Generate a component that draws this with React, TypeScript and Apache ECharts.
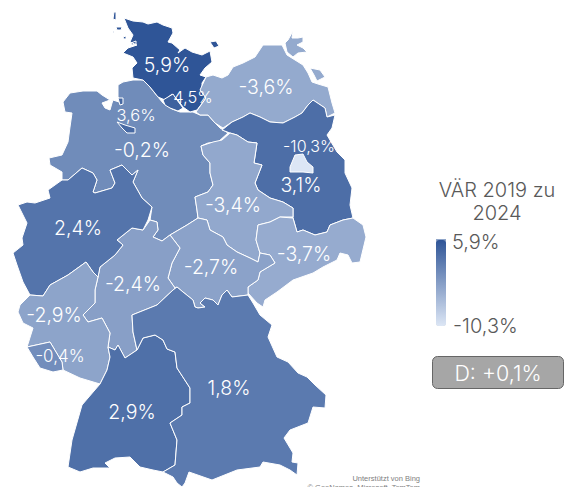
import React, { useEffect, useRef } from "react";
import * as echarts from "echarts";

const stateNames = ["Niedersachsen","Bremen","Schleswig-Holstein","Hamburg","Mecklenburg-Vorpommern","Brandenburg","Berlin","Sachsen-Anhalt","Sachsen","Thüringen","Hessen","Nordrhein-Westfalen","Rheinland-Pfalz","Saarland","Baden-Württemberg","Bayern"];
const stateValues = [-0.2,3.6,5.9,4.5,-3.6,3.1,-10.3,-3.4,-3.7,-2.7,-2.4,2.4,-2.9,-0.4,2.9,1.8];
const scaleMin = -10.3;
const scaleMax = 5.9;
const legendTitle = "VÄR 2019 zu\n2024";
const legendMaxLabel = "5,9%";
const legendMinLabel = "-10,3%";
const nationalLabel = "D: +0,1%";

type P = number[][];
// Traced outlines of the regions, in picture units
const outlines: Record<string, P[]> = {
  "Niedersachsen": [[[118,85],[123,82],[133,80],[143,80],[150,87],[158,97],[163,103],[172,109],[180,112],[193,112],[200,115],[208,115],[215,123],[220,128],[228,133],[218,142],[208,143],[201,146],[203,155],[210,163],[210,173],[213,185],[208,192],[195,197],[197,210],[198,218],[187,225],[170,235],[162,241],[153,237],[158,230],[157,222],[150,220],[152,207],[142,198],[133,182],[138,170],[132,175],[122,165],[110,170],[115,183],[112,188],[95,193],[93,192],[97,180],[93,173],[82,168],[68,180],[62,180],[62,172],[50,165],[49,158],[62,155],[68,142],[70,127],[72,113],[65,112],[63,102],[70,93],[83,91],[97,91],[102,95],[110,100],[102,103],[105,108],[110,110],[112,103],[113,100],[122,103],[118,97]]],
  "Bremen": [[[117,122],[125,125],[135,128],[135,133],[127,133],[122,128]],[[118,98],[123,98],[123,104],[120,105]]],
  "Schleswig-Holstein": [[[124,18],[133,21],[143,22],[148,24],[157,22],[163,25],[172,28],[173,33],[168,42],[172,43],[180,50],[178,53],[185,48],[192,52],[202,55],[210,51],[212,62],[205,68],[200,75],[206,77],[202,83],[202,92],[206,98],[197,110],[190,112],[183,107],[178,100],[172,94],[165,100],[158,97],[150,87],[143,80],[133,78],[132,68],[137,63],[133,57],[123,53],[128,48],[137,45],[130,42],[133,35],[128,28]],[[210,42],[216,41],[219,46],[214,48]],[[114,12],[116,12],[116,20],[113,19]],[[116,27],[122,27],[121,30],[117,30]],[[123,37],[126,36],[126,39],[124,39]],[[131,43],[136,41],[136,44],[132,45]],[[113,31],[114,31],[114,33],[113,33]]],
  "Hamburg": [[[163,100],[168,97],[173,94],[177,100],[183,108],[178,111],[170,108],[165,105]]],
  "Mecklenburg-Vorpommern": [[[200,90],[206,77],[213,75],[222,78],[228,75],[233,67],[243,63],[255,57],[263,45],[273,45],[282,45],[287,55],[295,60],[303,65],[308,73],[312,82],[318,84],[328,87],[332,103],[335,113],[327,117],[325,108],[313,100],[308,105],[302,113],[295,117],[283,123],[270,122],[260,117],[250,113],[243,117],[232,122],[223,128],[215,123],[208,115],[200,115],[196,112],[206,98]],[[285,43],[288,40],[293,31],[292,38],[298,38],[303,37],[303,42],[297,45],[303,48],[307,52],[298,53],[293,57],[287,52]],[[310,68],[320,70],[325,77],[317,81],[314,75]]],
  "Brandenburg": [[[222,130],[232,122],[243,117],[250,113],[260,117],[270,122],[283,123],[295,117],[302,113],[308,105],[313,100],[325,108],[327,117],[335,115],[332,128],[327,135],[337,152],[345,160],[345,173],[352,188],[350,205],[353,218],[343,220],[330,225],[327,232],[315,235],[303,230],[297,232],[293,218],[293,208],[283,202],[270,198],[258,190],[255,183],[262,165],[254,163],[257,143],[248,142],[237,135],[230,133]]],
  "Berlin": [[[295,155],[303,154],[307,162],[313,167],[313,173],[303,172],[290,172],[290,167]]],
  "Sachsen-Anhalt": [[[230,133],[237,135],[248,142],[257,143],[254,163],[262,165],[255,183],[258,190],[270,198],[283,202],[293,208],[293,217],[280,217],[270,222],[258,225],[256,240],[260,253],[258,262],[250,258],[237,252],[227,245],[223,237],[210,230],[207,220],[198,218],[197,210],[195,197],[208,192],[213,185],[210,173],[210,163],[203,155],[201,146],[213,142],[222,140]]],
  "Sachsen": [[[293,218],[297,232],[303,230],[315,235],[327,232],[330,225],[343,220],[353,218],[363,225],[366,237],[360,262],[352,263],[348,255],[340,253],[337,260],[323,267],[313,273],[293,280],[277,292],[265,300],[263,307],[257,303],[248,293],[248,287],[258,280],[260,272],[275,263],[270,255],[260,253],[256,240],[258,225],[270,222],[280,217]]],
  "Thüringen": [[[198,218],[207,220],[210,230],[223,237],[227,245],[237,252],[250,258],[258,262],[260,253],[270,255],[275,263],[260,272],[258,280],[248,287],[248,295],[232,297],[227,290],[222,295],[218,305],[213,300],[205,298],[200,303],[205,307],[198,308],[195,307],[193,300],[183,292],[177,287],[175,288],[168,278],[172,263],[180,248],[170,235],[187,225]]],
  "Hessen": [[[150,220],[157,222],[158,230],[153,237],[162,241],[170,235],[180,248],[172,263],[168,278],[175,288],[173,290],[157,305],[132,315],[133,332],[137,350],[125,358],[118,345],[115,350],[108,347],[110,333],[102,318],[88,322],[83,315],[95,303],[95,290],[98,277],[100,267],[115,255],[123,245],[117,240],[132,228],[143,230]]],
  "Nordrhein-Westfalen": [[[62,180],[68,180],[82,168],[93,173],[97,180],[93,192],[95,193],[112,188],[115,183],[110,170],[122,165],[132,175],[138,170],[133,182],[142,198],[152,207],[148,220],[143,230],[132,228],[117,240],[123,245],[115,255],[100,267],[98,277],[93,272],[86,262],[68,275],[50,285],[43,296],[30,295],[23,282],[17,265],[13,253],[23,245],[22,238],[27,223],[22,213],[18,205],[27,202],[35,203],[50,198],[48,190]]],
  "Rheinland-Pfalz": [[[86,262],[93,272],[98,277],[95,290],[95,303],[83,315],[88,322],[102,318],[110,333],[108,347],[110,357],[107,370],[100,384],[80,378],[63,370],[62,362],[50,342],[27,347],[33,328],[23,323],[18,312],[20,305],[30,295],[43,296],[50,285],[68,275]]],
  "Saarland": [[[27,347],[50,342],[62,362],[63,370],[53,372],[40,368],[33,357]]],
  "Baden-Württemberg": [[[100,384],[107,370],[110,357],[108,347],[115,350],[118,345],[125,358],[137,350],[143,338],[155,335],[163,340],[167,349],[175,352],[177,368],[190,388],[190,403],[182,407],[182,415],[170,423],[177,440],[175,465],[163,472],[153,470],[140,467],[130,457],[115,458],[105,463],[110,468],[93,468],[80,472],[68,467],[72,440],[82,405]]],
  "Bayern": [[[173,290],[177,287],[183,292],[193,300],[195,307],[198,308],[205,307],[200,303],[205,298],[213,300],[218,305],[222,295],[227,290],[232,297],[248,295],[253,303],[260,315],[272,325],[268,337],[277,357],[288,362],[298,373],[307,377],[315,385],[326,395],[325,408],[313,407],[308,423],[290,430],[284,438],[293,453],[292,462],[298,463],[297,475],[290,470],[280,465],[263,462],[260,467],[237,470],[212,480],[189,472],[185,483],[182,487],[177,483],[173,477],[163,472],[175,465],[177,440],[170,423],[182,415],[182,407],[190,403],[190,388],[177,368],[175,352],[167,349],[163,340],[155,335],[143,338],[137,350],[133,332],[132,315],[157,305]]],
};
// Where each region's label sits, in picture units
const labelAnchors: Record<string, number[]> = {
  "Niedersachsen": [142,150], "Bremen": [136,115], "Schleswig-Holstein": [167,65], "Hamburg": [193,97],
  "Mecklenburg-Vorpommern": [266,87], "Brandenburg": [301,185], "Berlin": [309,146], "Sachsen-Anhalt": [233,205],
  "Sachsen": [304,254], "Thüringen": [211,267], "Hessen": [133,284], "Nordrhein-Westfalen": [78,228],
  "Rheinland-Pfalz": [54,315], "Saarland": [60,356], "Baden-Württemberg": [132,412], "Bayern": [229,388],
};
const labelSizes: Record<string, number> = { "Bremen": 16.5, "Hamburg": 16.5, "Berlin": 16, "Saarland": 17 };

const flip = (r: P) => r.map(([x, y]) => [x, -y]);
const fmt = (v: number) => v.toFixed(1).replace(".", ",") + "%";
const FONT = "Inter";

export default function App() {
  const ref = useRef<HTMLDivElement>(null);
  useEffect(() => {
    document.body.style.margin = "0";
    const geoJson = {
      type: "FeatureCollection",
      features: stateNames.map((name) => ({
        type: "Feature",
        properties: { name, cp: [labelAnchors[name][0], -labelAnchors[name][1]] },
        geometry: { type: "MultiPolygon", coordinates: outlines[name].map((r) => [flip(r)]) },
      })),
    };
    echarts.registerMap("de", geoJson as any);
    const chart = echarts.init(ref.current!, null, { renderer: "svg" });
    chart.setOption({
      animation: false,
      backgroundColor: "#ffffff",
      visualMap: {
        type: "continuous",
        min: scaleMin,
        max: scaleMax,
        left: 421,
        top: 225,
        itemWidth: 10,
        itemHeight: 86,
        calculable: false,
        realtime: false,
        silent: true,
        text: null,
        showLabel: false,
        inRange: { color: ["#dce6f5", "#2f5597"] },
      },
      series: [{
        type: "map",
        map: "de",
        left: 0,
        top: 0,
        width: 564,
        height: 487,
        aspectScale: 1,
        boundingCoords: [[0, 0], [564, -487]],
        roam: false,
        silent: true,
        selectedMode: false,
        emphasis: { disabled: true },
        itemStyle: { borderColor: "#ffffff", borderWidth: 1 },
        label: { show: true, color: "#ffffff", fontFamily: FONT, fontWeight: 300, fontSize: 19.5, formatter: (p: any) => fmt(p.value) },
        data: stateNames.map((name, i) => ({
          name,
          value: stateValues[i],
          label: labelSizes[name] ? { fontSize: labelSizes[name] } : undefined,
        })),
      }],
      graphic: [
        { type: "text", x: 497, y: 201, style: { text: legendTitle, fontFamily: FONT, fontWeight: 300, fontSize: 20, lineHeight: 23, fill: "#595959", textAlign: "center", textVerticalAlign: "middle" } },
        { type: "rect", shape: { x: 436, y: 239, width: 10, height: 2 }, style: { fill: "#8fa5c9" } },
        { type: "text", x: 452, y: 242, style: { text: legendMaxLabel, fontFamily: FONT, fontWeight: 300, fontSize: 20, fill: "#595959", textVerticalAlign: "middle" } },
        { type: "text", x: 453, y: 326, style: { text: legendMinLabel, fontFamily: FONT, fontWeight: 300, fontSize: 20, fill: "#595959", textVerticalAlign: "middle" } },
        { type: "rect", shape: { x: 432.5, y: 356.5, width: 131, height: 32, r: 5 }, style: { fill: "#a6a6a6", stroke: "#666666", lineWidth: 1 } },
        { type: "text", x: 498, y: 373, style: { text: nationalLabel, fontFamily: FONT, fontWeight: 300, fontSize: 21.5, fill: "#ffffff", textAlign: "center", textVerticalAlign: "middle" } },
        { type: "text", x: 420, y: 478, style: { text: "Unterstützt von Bing", fontFamily: "Liberation Sans", fontSize: 7.5, fill: "#808080", textAlign: "right", textVerticalAlign: "middle" } },
        { type: "text", x: 420, y: 487, style: { text: "© GeoNames, Microsoft, TomTom", fontFamily: "Liberation Sans", fontSize: 7.5, fill: "#808080", textAlign: "right", textVerticalAlign: "middle" } },
      ],
    });
    return () => chart.dispose();
  }, []);
  return <div ref={ref} style={{ width: 564, height: 487 }} />;
}
